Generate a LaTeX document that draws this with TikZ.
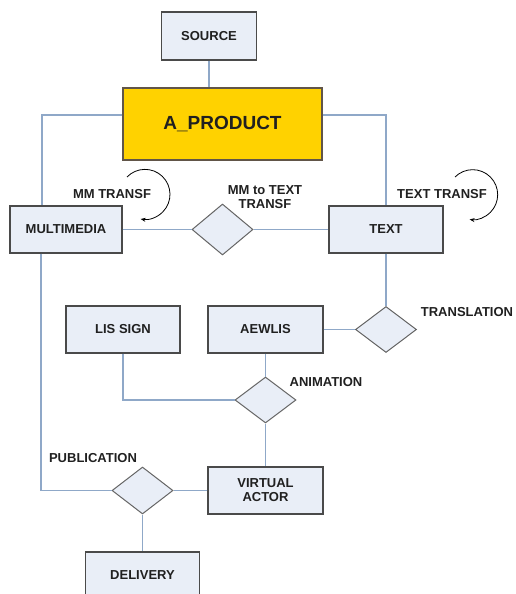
\documentclass[tikz,border=0pt]{standalone}
\usepackage{fontspec}
\setmainfont{Liberation Sans}
\usetikzlibrary{shapes.geometric,arrows.meta}
\definecolor{boxfill}{HTML}{E9EEF7}
\definecolor{boxline}{HTML}{4A4A4A}
\definecolor{conn}{HTML}{8FA8C8}
\definecolor{gold}{HTML}{FFD200}
\definecolor{txt}{HTML}{202020}
\begin{document}
\begin{tikzpicture}[x=1pt,y=-1pt,
  every node/.style={text=txt,font=\fontsize{13}{14}\selectfont\bfseries},
  entity/.style={draw=boxline,line width=1.4pt,fill=boxfill,rectangle,inner sep=0pt,align=center},
  rel/.style={draw=boxline!85,line width=1pt,fill=boxfill,diamond,inner sep=0pt,aspect=1.3},
  link/.style={draw=conn,line width=1.2pt},
  loop/.style={draw=black,line width=0.8pt,-{Stealth[length=5pt,width=4pt]}},
  lbl/.style={align=center,inner sep=0pt}]
\useasboundingbox (0,0) rectangle (515,594);
% entities
\node[entity,minimum width=95pt,minimum height=48pt] (source) at (209,36) {SOURCE};
\node[entity,fill=gold,draw=boxline!80!brown,minimum width=199pt,minimum height=72pt,font=\fontsize{19}{22}\selectfont\bfseries] (aprod) at (222.5,124) {A\_PRODUCT};
\node[entity,minimum width=112pt,minimum height=47pt] (mm) at (66,229.5) {MULTIMEDIA};
\node[entity,minimum width=114pt,minimum height=47pt] (text) at (386,229.5) {TEXT};
\node[entity,minimum width=114pt,minimum height=47pt] (lis) at (123,329.5) {LIS SIGN};
\node[entity,minimum width=115pt,minimum height=47pt] (aewlis) at (265.5,329.5) {AEWLIS};
\node[entity,minimum width=115pt,minimum height=47pt] (va) at (265.5,490.5) {VIRTUAL\\ACTOR};
\node[entity,minimum width=114pt,minimum height=46pt] (del) at (142.5,575) {DELIVERY};
% relationships
\node[rel,minimum width=61pt,minimum height=51pt] (mmd) at (222.5,229.5) {};
\node[rel,minimum width=61pt,minimum height=46pt] (trd) at (386,329.5) {};
\node[rel,minimum width=61pt,minimum height=46pt] (anim) at (265.5,400) {};
\node[rel,minimum width=61pt,minimum height=47pt] (pub) at (142.5,490.5) {};
% connectors
\draw[link] (source.south) -- (source.south |- aprod.north);
\draw[link] ([yshift=9pt]aprod.west) -| ([xshift=-24pt]mm.north);
\draw[link] ([yshift=9pt]aprod.east) -| (text.north);
\draw[link] (mm.east) -- (mmd.west);
\draw[link] (mmd.east) -- (text.west);
\draw[link] (text.south) -- (trd.north);
\draw[link] (aewlis.east) -- (trd.west);
\draw[link] (aewlis.south) -- (anim.north);
\draw[link] (lis.south) |- (anim.west);
\draw[link] (anim.south) -- (va.north);
\draw[link] ([xshift=-25pt]mm.south) |- (pub.west);
\draw[link] (va.west) -- (pub.east);
\draw[link] (pub.south) -- (del.north);
% labels
\node[lbl] (lmm) at (112,194) {MM TRANSF};
\node[lbl] (lmmt) at (265,197) {MM to TEXT\\TRANSF};
\node[lbl] (ltt) at (442,194) {TEXT TRANSF};
\node[lbl] (ltr) at (467,312) {TRANSLATION};
\node[lbl] (lan) at (326,382) {ANIMATION};
\node[lbl] (lpu) at (93,458) {PUBLICATION};
% self loops
\coordinate (mmloop) at (127,177);
\coordinate (txloop) at (455,177);
\draw[loop] (mmloop) arc[start angle=-136,end angle=100,radius=25];
\draw[loop] (txloop) arc[start angle=-135,end angle=97,radius=25];
\end{tikzpicture}
\end{document}
